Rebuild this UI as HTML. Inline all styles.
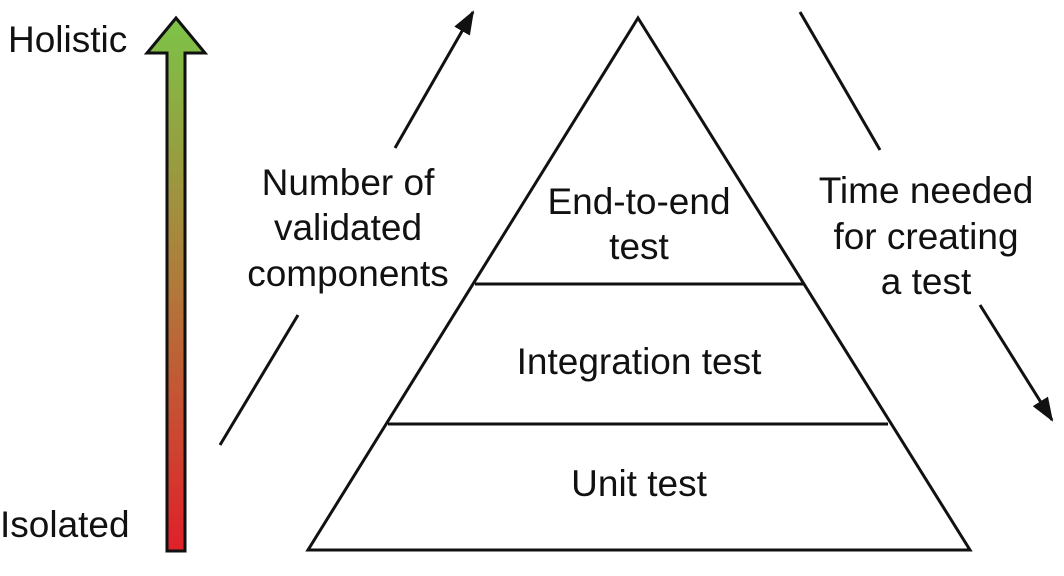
<!DOCTYPE html>
<html><head><meta charset="utf-8"><style>
html,body{margin:0;padding:0;background:#fff;}
svg{display:block;}
text{font-family:"Liberation Sans",sans-serif;font-size:37px;fill:#111;}
</style></head><body>
<svg width="1064" height="576" viewBox="0 0 1064 576">
<defs>
<linearGradient id="g" x1="0" y1="0" x2="0" y2="1">
<stop offset="0" stop-color="#7cc447"/>
<stop offset="0.5" stop-color="#b07a3a"/>
<stop offset="1" stop-color="#e0202a"/>
</linearGradient>
<marker id="ah" markerWidth="24" markerHeight="18" refX="22" refY="9" orient="auto" markerUnits="userSpaceOnUse" viewBox="0 0 24 18">
<path d="M0,0 L24,9 L0,18 Z" fill="#111"/>
</marker>
</defs>
<path d="M176,18 L205,53 L185,53 L185,551 L167,551 L167,53 L147,53 Z" fill="url(#g)" stroke="#111" stroke-width="3" stroke-linejoin="miter"/>
<text x="8" y="52">Holistic</text>
<text x="0" y="537">Isolated</text>
<path d="M638,18 L970,550 L308,550 Z" fill="none" stroke="#111" stroke-width="3"/>
<line x1="475" y1="284" x2="805" y2="284" stroke="#111" stroke-width="3"/>
<line x1="388" y1="424" x2="888" y2="424" stroke="#111" stroke-width="3"/>
<text x="639" y="214" text-anchor="middle">End-to-end</text>
<text x="639" y="259" text-anchor="middle">test</text>
<text x="639" y="374" text-anchor="middle">Integration test</text>
<text x="639" y="496" text-anchor="middle">Unit test</text>
<text x="348" y="195" text-anchor="middle">Number of</text>
<text x="348" y="240" text-anchor="middle">validated</text>
<text x="348" y="286" text-anchor="middle">components</text>
<text x="926" y="203" text-anchor="middle">Time needed</text>
<text x="926" y="249" text-anchor="middle">for creating</text>
<text x="926" y="294" text-anchor="middle">a test</text>
<line x1="220" y1="445" x2="298" y2="315" stroke="#111" stroke-width="3"/>
<line x1="395" y1="148" x2="473" y2="12" stroke="#111" stroke-width="3" marker-end="url(#ah)"/>
<line x1="800" y1="12" x2="880" y2="150" stroke="#111" stroke-width="3"/>
<line x1="980" y1="305" x2="1052" y2="420" stroke="#111" stroke-width="3" marker-end="url(#ah)"/>
</svg>
</body></html>
